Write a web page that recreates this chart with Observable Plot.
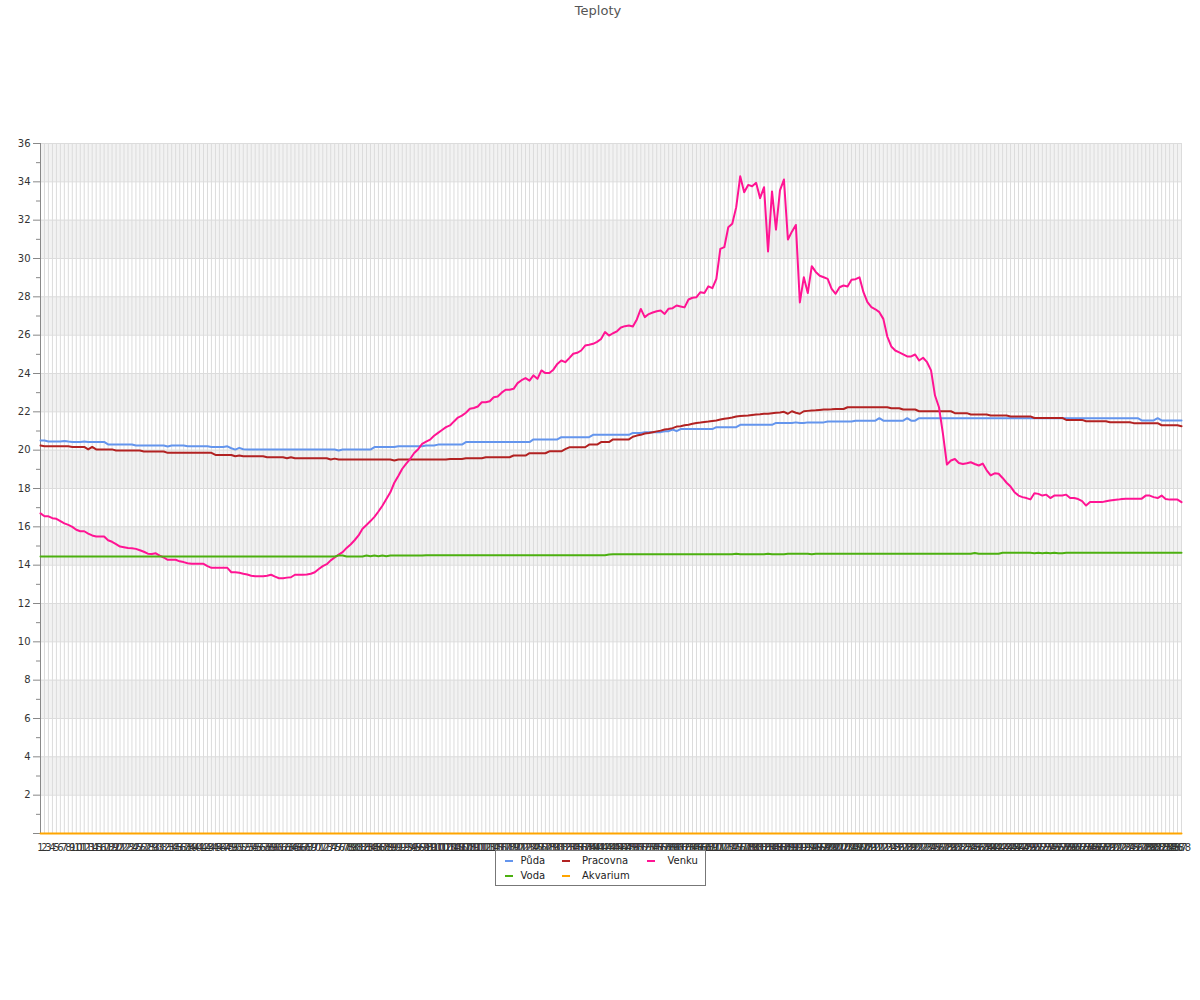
<!DOCTYPE html>
<html><head><meta charset="utf-8">
<script src="https://cdn.jsdelivr.net/npm/d3@7"></script>
<script src="https://cdn.jsdelivr.net/npm/@observablehq/plot@0.6"></script>
<style>
body{margin:0;background:#fff;font-family:"DejaVu Sans",sans-serif;}
#wrap{position:relative;width:1200px;height:1000px;overflow:hidden;}
#chart{position:absolute;left:0;top:0;}
#title{position:absolute;left:0;width:1196px;top:3px;text-align:center;font-size:13px;line-height:15px;color:#555;}
#legend{position:absolute;left:495px;top:850px;width:209px;height:34px;border:1px solid #777;background:#fff;font-size:10px;color:#222;}
.sw{position:absolute;width:8px;height:2px;}
.tx{position:absolute;line-height:12px;white-space:nowrap;}
</style>
</head><body>
<div id="wrap"><div id="chart"></div><div id="title">Teploty</div><div id="legend"></div></div>
<script>
// Category labels (x axis)
const categories = d3.range(1, 289).map(String);

const puda = [
20.5,20.5,20.45,20.45,20.45,20.45,20.48,20.45,20.43,20.43,
20.43,20.45,20.43,20.43,20.43,20.43,20.43,20.3,20.3,20.3,
20.3,20.3,20.3,20.3,20.24,20.24,20.24,20.24,20.24,20.24,
20.24,20.24,20.19,20.24,20.24,20.24,20.24,20.2,20.2,20.2,
20.2,20.2,20.2,20.17,20.17,20.17,20.17,20.2,20.1,20.03,
20.12,20.05,20.03,20.03,20.03,20.03,20.03,20.03,20.03,20.03,
20.03,20.03,20.03,20.03,20.03,20.03,20.03,20.03,20.03,20.03,
20.03,20.03,20.03,20.03,20.03,19.98,20.03,20.03,20.03,20.03,
20.03,20.03,20.03,20.03,20.16,20.16,20.16,20.16,20.16,20.16,
20.2,20.2,20.2,20.2,20.2,20.2,20.2,20.24,20.24,20.24,
20.29,20.29,20.29,20.29,20.29,20.29,20.29,20.42,20.42,20.42,
20.42,20.42,20.42,20.42,20.42,20.42,20.42,20.42,20.42,20.42,
20.42,20.42,20.42,20.42,20.56,20.56,20.56,20.56,20.56,20.56,
20.56,20.68,20.68,20.68,20.68,20.68,20.68,20.68,20.68,20.8,
20.8,20.8,20.8,20.8,20.8,20.8,20.8,20.8,20.8,20.9,
20.9,20.9,20.94,20.94,20.94,20.94,20.94,20.99,20.99,21.08,
20.99,21.1,21.1,21.1,21.1,21.1,21.1,21.1,21.1,21.1,
21.2,21.2,21.2,21.2,21.2,21.2,21.32,21.32,21.32,21.32,
21.32,21.32,21.32,21.32,21.32,21.42,21.42,21.42,21.42,21.42,
21.45,21.42,21.42,21.45,21.45,21.45,21.45,21.45,21.5,21.5,
21.5,21.5,21.5,21.5,21.5,21.54,21.54,21.54,21.54,21.54,
21.54,21.67,21.54,21.54,21.54,21.54,21.54,21.54,21.67,21.54,
21.54,21.67,21.67,21.67,21.67,21.67,21.67,21.67,21.67,21.67,
21.67,21.67,21.67,21.67,21.67,21.67,21.67,21.67,21.67,21.67,
21.67,21.67,21.67,21.67,21.67,21.67,21.67,21.67,21.67,21.67,
21.67,21.67,21.67,21.67,21.67,21.67,21.67,21.67,21.67,21.67,
21.67,21.67,21.67,21.67,21.67,21.67,21.67,21.67,21.67,21.67,
21.67,21.67,21.67,21.67,21.67,21.67,21.67,21.55,21.55,21.55,
21.55,21.67,21.55,21.55,21.55,21.55,21.55,21.55
];

const pracovna = [
20.24,20.2,20.2,20.2,20.2,20.2,20.2,20.2,20.17,20.17,
20.17,20.17,20.04,20.17,20.04,20.04,20.04,20.04,20.04,19.98,
19.98,19.98,19.98,19.98,19.98,19.98,19.93,19.93,19.93,19.93,
19.93,19.93,19.86,19.86,19.86,19.86,19.86,19.86,19.86,19.86,
19.86,19.86,19.86,19.86,19.75,19.75,19.75,19.75,19.75,19.68,
19.72,19.68,19.68,19.68,19.68,19.68,19.68,19.63,19.63,19.63,
19.63,19.63,19.58,19.63,19.58,19.58,19.58,19.58,19.58,19.58,
19.58,19.58,19.58,19.51,19.56,19.51,19.51,19.51,19.51,19.51,
19.51,19.51,19.51,19.51,19.51,19.51,19.51,19.51,19.51,19.46,
19.51,19.51,19.51,19.51,19.51,19.51,19.51,19.51,19.51,19.51,
19.51,19.51,19.51,19.54,19.54,19.54,19.54,19.58,19.58,19.58,
19.58,19.58,19.63,19.63,19.63,19.63,19.63,19.63,19.63,19.72,
19.72,19.72,19.72,19.84,19.84,19.84,19.84,19.84,19.94,19.94,
19.94,19.94,20.05,20.15,20.15,20.15,20.15,20.15,20.29,20.29,
20.29,20.42,20.42,20.42,20.56,20.56,20.56,20.56,20.56,20.7,
20.76,20.8,20.87,20.9,20.94,20.98,21.02,21.08,21.1,21.15,
21.23,21.25,21.3,21.33,21.38,21.42,21.44,21.47,21.49,21.52,
21.55,21.6,21.64,21.67,21.7,21.76,21.78,21.8,21.81,21.84,
21.86,21.87,21.9,21.9,21.93,21.95,21.97,22.0,21.9,22.03,
21.95,21.9,22.03,22.05,22.07,22.08,22.1,22.12,22.12,22.13,
22.15,22.15,22.15,22.24,22.24,22.24,22.24,22.24,22.24,22.24,
22.24,22.24,22.24,22.24,22.19,22.19,22.19,22.12,22.12,22.12,
22.12,22.03,22.03,22.03,22.03,22.03,22.03,22.03,22.03,22.03,
21.93,21.93,21.93,21.93,21.86,21.86,21.86,21.86,21.86,21.81,
21.81,21.81,21.81,21.81,21.76,21.76,21.76,21.76,21.76,21.76,
21.68,21.68,21.68,21.68,21.68,21.68,21.68,21.68,21.58,21.58,
21.58,21.58,21.58,21.51,21.51,21.51,21.51,21.51,21.51,21.46,
21.46,21.46,21.46,21.46,21.46,21.41,21.41,21.41,21.41,21.41,
21.41,21.41,21.3,21.3,21.3,21.3,21.3,21.25
];

const venku = [
16.7,16.55,16.55,16.45,16.42,16.3,16.18,16.1,16.0,15.85,
15.77,15.77,15.65,15.55,15.5,15.5,15.5,15.3,15.22,15.1,
14.97,14.94,14.9,14.88,14.85,14.78,14.7,14.6,14.58,14.62,
14.5,14.4,14.28,14.28,14.28,14.2,14.16,14.1,14.07,14.07,
14.07,14.07,13.95,13.86,13.86,13.86,13.86,13.86,13.63,13.63,
13.6,13.55,13.51,13.45,13.42,13.42,13.42,13.45,13.5,13.4,
13.32,13.32,13.35,13.37,13.5,13.5,13.5,13.51,13.55,13.63,
13.8,13.95,14.05,14.25,14.4,14.55,14.68,14.9,15.08,15.3,
15.55,15.9,16.1,16.3,16.52,16.8,17.1,17.45,17.8,18.3,
18.65,19.03,19.3,19.55,19.85,20.05,20.33,20.45,20.55,20.75,
20.9,21.05,21.2,21.29,21.5,21.7,21.8,21.95,22.16,22.2,
22.28,22.5,22.5,22.55,22.76,22.8,23.0,23.15,23.15,23.2,
23.5,23.65,23.76,23.63,23.9,23.72,24.16,24.02,24.02,24.2,
24.5,24.68,24.59,24.8,25.03,25.08,25.2,25.46,25.5,25.55,
25.65,25.8,26.16,25.98,26.1,26.2,26.4,26.47,26.5,26.45,
26.82,27.37,26.94,27.1,27.18,27.25,27.29,27.11,27.38,27.41,
27.55,27.5,27.45,27.86,27.95,27.98,28.24,28.2,28.55,28.45,
28.94,30.5,30.59,31.63,31.81,32.68,34.29,33.46,33.84,33.77,
33.95,33.15,33.72,30.37,33.5,31.51,33.55,34.12,30.99,31.4,
31.75,27.71,29.02,28.2,29.6,29.3,29.1,29.02,28.94,28.42,
28.16,28.5,28.59,28.54,28.89,28.92,29.02,28.24,27.72,27.46,
27.35,27.2,26.85,25.93,25.41,25.2,25.1,25.0,24.89,24.89,
24.99,24.68,24.82,24.59,24.16,22.85,22.24,20.85,19.25,19.46,
19.54,19.33,19.28,19.32,19.37,19.28,19.2,19.3,18.95,18.68,
18.79,18.77,18.55,18.3,18.1,17.81,17.63,17.55,17.5,17.43,
17.75,17.72,17.63,17.68,17.5,17.63,17.63,17.63,17.68,17.5,
17.5,17.45,17.34,17.11,17.29,17.29,17.29,17.29,17.33,17.37,
17.4,17.42,17.45,17.47,17.47,17.47,17.47,17.47,17.63,17.63,
17.55,17.5,17.63,17.45,17.42,17.42,17.42,17.29
];

const voda = [
14.45,14.45,14.45,14.45,14.45,14.45,14.45,14.45,14.45,14.45,
14.45,14.45,14.45,14.45,14.45,14.45,14.45,14.45,14.45,14.45,
14.45,14.45,14.45,14.45,14.45,14.45,14.45,14.45,14.45,14.45,
14.45,14.45,14.45,14.45,14.45,14.45,14.45,14.45,14.45,14.45,
14.45,14.45,14.45,14.45,14.45,14.45,14.45,14.45,14.45,14.45,
14.45,14.45,14.45,14.45,14.45,14.45,14.45,14.45,14.45,14.45,
14.45,14.45,14.45,14.45,14.45,14.45,14.45,14.45,14.45,14.45,
14.45,14.45,14.45,14.45,14.45,14.5,14.5,14.45,14.45,14.45,
14.45,14.45,14.5,14.47,14.5,14.47,14.5,14.47,14.5,14.5,
14.5,14.5,14.5,14.5,14.5,14.5,14.5,14.52,14.52,14.52,
14.52,14.52,14.52,14.52,14.52,14.52,14.52,14.52,14.52,14.52,
14.52,14.52,14.52,14.52,14.52,14.52,14.52,14.52,14.52,14.52,
14.52,14.52,14.52,14.52,14.52,14.52,14.52,14.52,14.52,14.52,
14.52,14.52,14.52,14.52,14.52,14.52,14.52,14.52,14.52,14.52,
14.52,14.52,14.52,14.56,14.57,14.57,14.57,14.57,14.57,14.57,
14.57,14.57,14.57,14.57,14.57,14.57,14.57,14.57,14.57,14.57,
14.57,14.57,14.57,14.57,14.57,14.57,14.57,14.57,14.57,14.57,
14.57,14.57,14.57,14.57,14.57,14.6,14.57,14.57,14.57,14.57,
14.57,14.57,14.57,14.6,14.57,14.57,14.57,14.57,14.6,14.6,
14.6,14.6,14.6,14.6,14.57,14.6,14.6,14.6,14.6,14.6,
14.6,14.6,14.6,14.6,14.6,14.6,14.6,14.6,14.6,14.6,
14.6,14.6,14.6,14.6,14.6,14.6,14.6,14.6,14.6,14.6,
14.6,14.6,14.6,14.6,14.6,14.6,14.6,14.6,14.6,14.6,
14.6,14.6,14.6,14.6,14.6,14.64,14.6,14.6,14.6,14.6,
14.6,14.6,14.65,14.65,14.65,14.65,14.65,14.65,14.65,14.65,
14.62,14.65,14.62,14.65,14.62,14.65,14.62,14.62,14.65,14.65,
14.65,14.65,14.65,14.65,14.65,14.65,14.65,14.65,14.65,14.65,
14.65,14.65,14.65,14.65,14.65,14.65,14.65,14.65,14.65,14.65,
14.65,14.65,14.65,14.65,14.65,14.65,14.65,14.65
];

const akvarium = [
0,0,0,0,0,0,0,0,0,0,0,0,0,0,0,0,0,0,0,0,0,0,0,0,
0,0,0,0,0,0,0,0,0,0,0,0,0,0,0,0,0,0,0,0,0,0,0,0,
0,0,0,0,0,0,0,0,0,0,0,0,0,0,0,0,0,0,0,0,0,0,0,0,
0,0,0,0,0,0,0,0,0,0,0,0,0,0,0,0,0,0,0,0,0,0,0,0,
0,0,0,0,0,0,0,0,0,0,0,0,0,0,0,0,0,0,0,0,0,0,0,0,
0,0,0,0,0,0,0,0,0,0,0,0,0,0,0,0,0,0,0,0,0,0,0,0,
0,0,0,0,0,0,0,0,0,0,0,0,0,0,0,0,0,0,0,0,0,0,0,0,
0,0,0,0,0,0,0,0,0,0,0,0,0,0,0,0,0,0,0,0,0,0,0,0,
0,0,0,0,0,0,0,0,0,0,0,0,0,0,0,0,0,0,0,0,0,0,0,0,
0,0,0,0,0,0,0,0,0,0,0,0,0,0,0,0,0,0,0,0,0,0,0,0,
0,0,0,0,0,0,0,0,0,0,0,0,0,0,0,0,0,0,0,0,0,0,0,0,
0,0,0,0,0,0,0,0,0,0,0,0,0,0,0,0,0,0,0,0,0,0,0,0
];

const seriesNames = ["Půda", "Pracovna", "Venku", "Voda", "Akvarium"];
const seriesColors = ["#6495ED", "#B22222", "#FF1493", "#4CB010", "#FFA500"];
const seriesValues = [puda, pracovna, venku, voda, akvarium];

const yMajor = d3.range(0, 37, 2);
const yMinor = d3.range(1, 37, 2);
const bandStarts = d3.range(2, 36, 4);

const lineMarks = seriesValues.map((vals, k) =>
  Plot.line(vals.map((v, i) => ({cat: categories[i], v})),
    {x: "cat", y: "v", stroke: seriesColors[k], strokeWidth: 2, strokeLinejoin: "round"})
);

const chart = Plot.plot({
  width: 1200, height: 1000,
  marginTop: 143, marginBottom: 167, marginLeft: 40, marginRight: 19,
  style: {fontFamily: '"DejaVu Sans", sans-serif', fontSize: "10px", color: "#333", background: "transparent", overflow: "visible"},
  x: {type: "point", domain: categories, padding: 0, axis: null, label: null},
  y: {domain: [0, 36], axis: null, label: null},
  marks: [
    Plot.rect(bandStarts, {y1: d => d, y2: d => d + 2, fill: "#f2f2f2"}),
    Plot.ruleX(categories, {x: d => d, stroke: "#dcdcdc", strokeWidth: 1}),
    Plot.ruleY(yMajor.filter(d => d > 0), {y: d => d, stroke: "#dcdcdc", strokeWidth: 1}),
    Plot.ruleY([0], {stroke: "#999"}),
    Plot.ruleX([categories[0]], {stroke: "#888"}),
    Plot.axisY(yMinor, {tickSize: 4, text: null, stroke: "#888", label: null}),
    Plot.axisY(yMajor, {tickSize: 7, tickPadding: 3, stroke: "#888", label: null, tickFormat: d => d === 0 ? "" : String(d)}),
    Plot.axisX(categories, {tickSize: 0, tickPadding: 10, label: null}),
    ...lineMarks
  ]
});
document.getElementById("chart").appendChild(chart);

// Legend
const legend = document.getElementById("legend");
const pos = [[8.5, 24.5, 9.5], [66, 86, 9.5], [151, 171.5, 9.5], [8.5, 24.5, 25], [66, 86, 25]];
seriesNames.forEach((name, k) => {
  const [sx, tx, cy] = pos[k];
  const sw = document.createElement("div");
  sw.className = "sw"; sw.style.left = sx + "px"; sw.style.top = (cy - 1) + "px"; sw.style.background = seriesColors[k];
  const t = document.createElement("div");
  t.className = "tx"; t.style.left = tx + "px"; t.style.top = (cy - 6) + "px"; t.textContent = name;
  legend.appendChild(sw); legend.appendChild(t);
});
</script>
</body></html>
